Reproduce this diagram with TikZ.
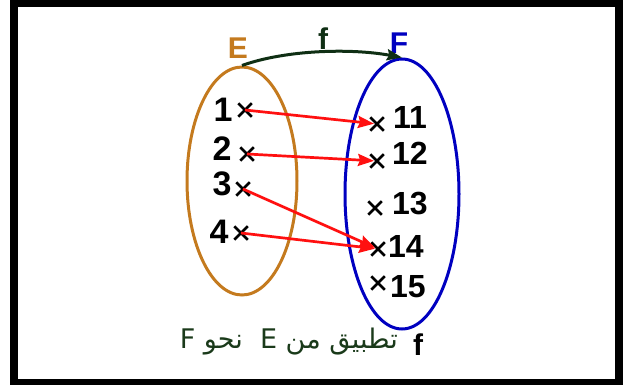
\documentclass[tikz,border=0pt]{standalone}
\usepackage{fontspec}
\setmainfont{Liberation Sans}
\newfontfamily\arabicfont[Script=Arabic]{DejaVu Sans}
\TeXXeTstate=1
\usetikzlibrary{shapes.geometric,shapes.misc,arrows.meta}
\definecolor{ebrown}{HTML}{C47A1E}
\definecolor{fblue}{HTML}{0000C0}
\definecolor{curvegreen}{HTML}{0F2F14}
\definecolor{textgreen}{HTML}{1A3A1A}
\definecolor{arrred}{HTML}{FF1010}
\tikzset{
  setell/.style={ellipse, draw, line width=3pt, inner sep=0pt},
  cx/.style={cross out, draw=black, line width=2.7pt, minimum size=13.5pt, inner sep=0pt, outer sep=0pt},
  enum/.style={font=\fontsize{34}{34}\selectfont\bfseries, inner sep=0pt},
  fnum/.style={font=\fontsize{32}{32}\selectfont\bfseries, inner sep=0pt},
  setlabel/.style={font=\fontsize{30}{30}\selectfont\bfseries, inner sep=0pt},
  maparrow/.style={draw=arrred, line width=2.7pt, shorten >=3pt, -{Stealth[length=16pt,width=12pt,inset=2pt]}},
}
\begin{document}
\begin{tikzpicture}[x=1pt,y=-1pt]
\useasboundingbox (0,0) rectangle (630,385);
\draw[line width=8pt] (14,3.5) rectangle (619,383);
% sets
\node[setell, draw=ebrown, minimum width=110pt, minimum height=228pt] (E) at (242,181) {};
\node[setell, draw=fblue, minimum width=114pt, minimum height=270pt] (F) at (402,194) {};
\node[setlabel, text=ebrown] (Elab) at (238,48) {E};
\node[setlabel, text=fblue] (Flab) at (399,43) {F};
\node[setlabel, text=curvegreen] (flab) at (323,39) {f};
\draw[curvegreen, line width=3pt, -{Stealth[length=15pt,width=11pt,inset=2pt]}] (E.north) .. controls (285,50) and (350,48) .. (F.north);
% E elements
\node[cx] (e1) at (245,110) {};
\node[cx] (e2) at (247,154) {};
\node[cx] (e3) at (243,189) {};
\node[cx] (e4) at (241,233) {};
\node[enum] (l1) at (223,110) {1};
\node[enum] (l2) at (222,149) {2};
\node[enum] (l3) at (222,184) {3};
\node[enum] (l4) at (219,232) {4};
% F elements
\node[cx] (f11) at (377,124) {};
\node[cx] (f12) at (377,161) {};
\node[cx] (f13) at (375,208) {};
\node[cx] (f14) at (378,249) {};
\node[cx] (f15) at (378,283) {};
\node[fnum] (l11) at (410,117) {11};
\node[fnum] (l12) at (410,153) {12};
\node[fnum] (l13) at (410,204) {13};
\node[fnum] (l14) at (406,246) {14};
\node[fnum] (l15) at (408,287) {15};
% mapping arrows
\draw[maparrow] (e1.center) -- (f11.center);
\draw[maparrow] (e2.center) -- (f12.center);
\draw[maparrow] (e3.center) -- (f14.center);
\draw[maparrow] (e4.center) -- (f14.center);
% caption
\node[font=\fontsize{30}{30}\selectfont\bfseries, text=black, inner sep=0pt] (cf) at (418,345) {f};
\node[font=\fontsize{27}{27}\arabicfont, text=textgreen, inner sep=0pt, anchor=east] (cap) at (398,342) {\beginR تطبيق من E \ نحو F\endR};
\end{tikzpicture}
\end{document}
